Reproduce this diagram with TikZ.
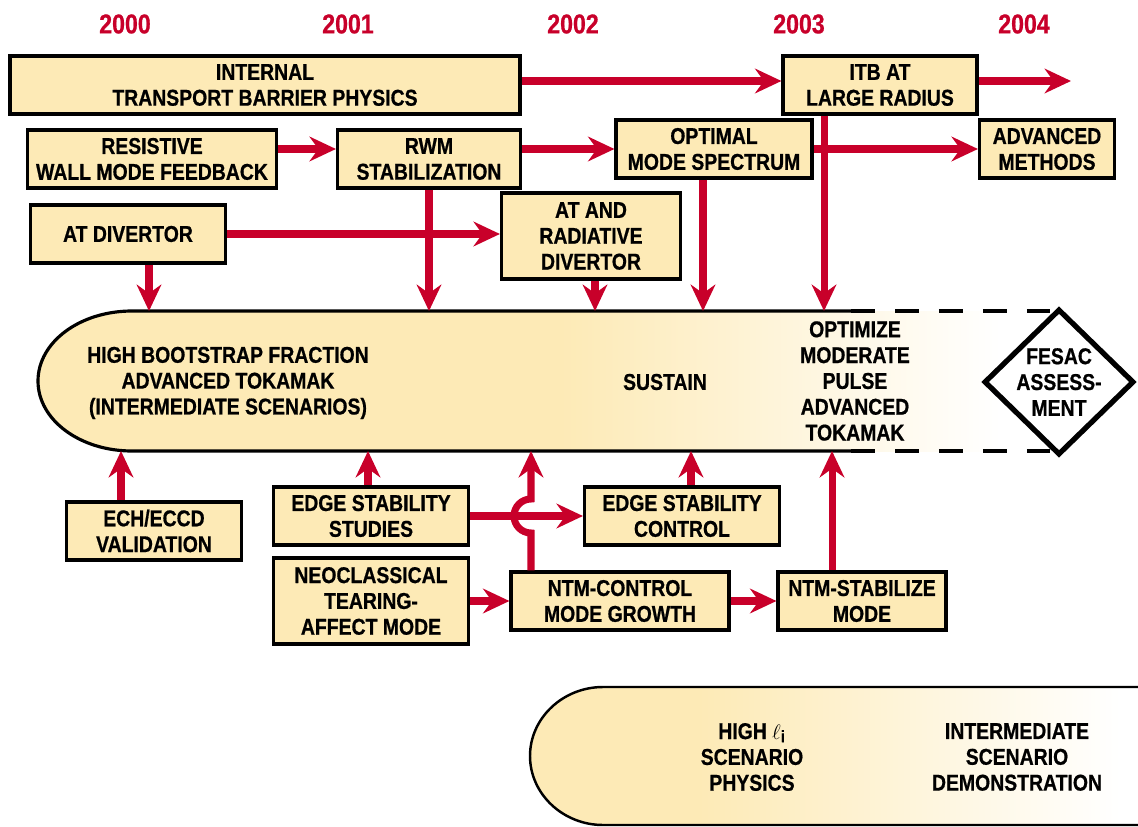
\documentclass[tikz,border=0pt]{standalone}
\usepackage{amsmath}
\usepackage{fontspec}
\setmainfont{Liberation Sans}[FakeStretch=0.85, BoldFeatures={FakeBold=0.7}]
\usetikzlibrary{arrows.meta,shapes.geometric}

\definecolor{boxfill}{RGB}{253,234,182}
\definecolor{flowred}{RGB}{200,0,42}
\newcommand{\boxfont}{\bfseries\fontsize{13}{14.7}\selectfont}
\newcommand{\yearfont}{\bfseries\fontsize{15.5}{17}\selectfont}

\tikzset{
    box/.style={draw, line width=1.8pt, fill=boxfill, align=center,
        inner sep=1pt, font=\boxfont},
    bandtext/.style={align=center, inner sep=1pt, font=\boxfont},
    yearlabel/.style={text=flowred, font=\yearfont},
    flow/.style={draw=flowred, line width=4pt,
        -{Stealth[length=15pt,width=14pt,inset=5pt]}},
}

\begin{document}
\begin{tikzpicture}[x=0.02cm, y=-0.02cm]
    \useasboundingbox (0,0) rectangle (1138,827);

    % Years.
    \foreach \yr/\xp in {2000/125,2001/348,2002/573,2003/799,2004/1024}
        \node[yearlabel] (y\yr) at (\xp,24) {\yr};

    % Main band, fading out to the right.
    \fill[boxfill] (132,311) -- (561,311) -- (561,451) -- (132,451)
        .. controls (80,451) and (38,420) .. (38,381)
        .. controls (38,342) and (80,311) .. (132,311) -- cycle;
    \shade[left color=boxfill, right color=white] (560,311) rectangle (1000,451);
    \draw[line width=1.8pt] (851,311) -- (132,311)
        .. controls (80,311) and (38,342) .. (38,381)
        .. controls (38,420) and (80,451) .. (132,451) -- (851,451);
    \draw[line width=1.8pt, dash pattern=on 0.48cm off 0.4cm]
        (851,311) -- (1050,311) (851,451) -- (1050,451);
    \node[draw, diamond, line width=3pt, fill=white, inner sep=0pt,
        minimum width=3cm, minimum height=2.92cm] (diam) at (1059,382) {};

    \node[bandtext] (hbf) at (228,383)
        {HIGH BOOTSTRAP FRACTION\\ADVANCED TOKAMAK\\(INTERMEDIATE SCENARIOS)};
    \node[bandtext] (sustain) at (665,382) {SUSTAIN};
    \node[bandtext] (omp) at (855,381)
        {OPTIMIZE\\MODERATE\\PULSE\\ADVANCED\\TOKAMAK};
    \node[bandtext] (fesac) at (diam) {FESAC\\ASSESS-\\MENT};

    % Second band.
    \fill[boxfill] (603,687) -- (700,687) -- (700,825) -- (603,825)
        .. controls (563,825) and (530,794) .. (530,756)
        .. controls (530,718) and (563,687) .. (603,687) -- cycle;
    \shade[left color=boxfill, right color=white] (699,687) rectangle (1120,825);
    \draw[line width=1.4pt] (1138,687) -- (603,687)
        .. controls (563,687) and (530,718) .. (530,756)
        .. controls (530,794) and (563,825) .. (603,825) -- (1138,825);
    \node[bandtext] (hli) at (752,757)
        {HIGH $\ell_{\smash{\text{\fontsize{9.5}{10}\selectfont i}}}$\\SCENARIO\\PHYSICS};
    \node[bandtext] (isd) at (1017,757) {INTERMEDIATE\\SCENARIO\\DEMONSTRATION};

    % Boxes above the band.
    \node[box, minimum width=10.2cm, minimum height=1.16cm] (itp) at (265,85)
        {INTERNAL\\TRANSPORT BARRIER PHYSICS};
    \node[box, minimum width=3.88cm, minimum height=1.16cm] (itb) at (880,85)
        {ITB AT\\LARGE RADIUS};
    \node[box, minimum width=4.98cm, minimum height=1.16cm] (rwf) at (152,159)
        {RESISTIVE\\WALL MODE FEEDBACK};
    \node[box, minimum width=3.66cm, minimum height=1.16cm] (rwm) at (429,159)
        {RWM\\STABILIZATION};
    \node[box, minimum width=3.92cm, minimum height=1.16cm] (opt) at (714,149)
        {OPTIMAL\\MODE SPECTRUM};
    \node[box, minimum width=2.7cm, minimum height=1.16cm] (adv) at (1047,149)
        {ADVANCED\\METHODS};
    \node[box, minimum width=3.9cm, minimum height=1.16cm] (atdiv) at (128,234)
        {AT DIVERTOR};
    \node[box, minimum width=3.58cm, minimum height=1.72cm] (atrad) at (591,236)
        {AT AND\\RADIATIVE\\DIVERTOR};

    % Boxes below the band.
    \node[box, minimum width=3.5cm, minimum height=1.16cm] (ech) at (154,531)
        {ECH/ECCD\\VALIDATION};
    \node[box, minimum width=3.9cm, minimum height=1.16cm] (ess) at (371,516)
        {EDGE STABILITY\\STUDIES};
    \node[box, minimum width=3.9cm, minimum height=1.72cm] (neo) at (371,601)
        {NEOCLASSICAL\\TEARING-\\AFFECT MODE};
    \node[box, minimum width=3.9cm, minimum height=1.16cm] (esc) at (682,516)
        {EDGE STABILITY\\CONTROL};
    \node[box, minimum width=4.36cm, minimum height=1.16cm] (ntmc) at (620,601)
        {NTM-CONTROL\\MODE GROWTH};
    \node[box, minimum width=3.36cm, minimum height=1.16cm] (ntms) at (862,601)
        {NTM-STABILIZE\\MODE};

    % Arrows between the upper boxes.
    \coordinate (itbend) at (1071,81);
    \draw[flow] ([yshift=0.08cm]itp.east) -- ([yshift=0.08cm]itb.west);
    \draw[flow] (itb.east |- itbend) -- (itbend);
    \draw[flow] (rwf.east |- opt) -- (rwm.west |- opt);
    \draw[flow] (rwm.east |- opt) -- (opt.west);
    \draw[flow] (opt) -- (adv);
    \draw[flow] (atdiv.east) -- (atdiv -| atrad.west);

    % Arrows into the band.
    \coordinate (atdivin) at (149,311);
    \coordinate (atradin) at (595,311);
    \coordinate (optin) at (703,311);
    \coordinate (itbin) at (824,311);
    \draw[flow] (atdiv.south -| atdivin) -- (atdivin);
    \draw[flow] (rwm.south) -- (rwm.south |- atdivin);
    \draw[flow] (atrad.south -| atradin) -- (atradin);
    \draw[flow] (opt.south -| optin) -- (optin);
    \draw[flow] (itb.south -| itbin) -- (itbin);

    % Arrows between the lower boxes and up into the band.
    \coordinate (echout) at (121,451);
    \coordinate (essout) at (368,451);
    \coordinate (ntmcout) at (531,451);
    \coordinate (escout) at (691,451);
    \coordinate (ntmsout) at (832,451);
    \coordinate (hoplow) at (531,533);
    \draw[flow] (ess) -- (esc);
    \draw[flow] (neo) -- (ntmc);
    \draw[flow] (ntmc) -- (ntms);
    \draw[flow] (ech.north -| echout) -- (echout);
    \draw[flow] (ess.north -| essout) -- (essout);
    \draw[flow] (ntmc.north -| hoplow) -- (hoplow)
        arc[start angle=270, end angle=90, radius=0.34cm] -- (ntmcout);
    \draw[flow] (esc.north -| escout) -- (escout);
    \draw[flow] (ntms.north -| ntmsout) -- (ntmsout);
\end{tikzpicture}
\end{document}
